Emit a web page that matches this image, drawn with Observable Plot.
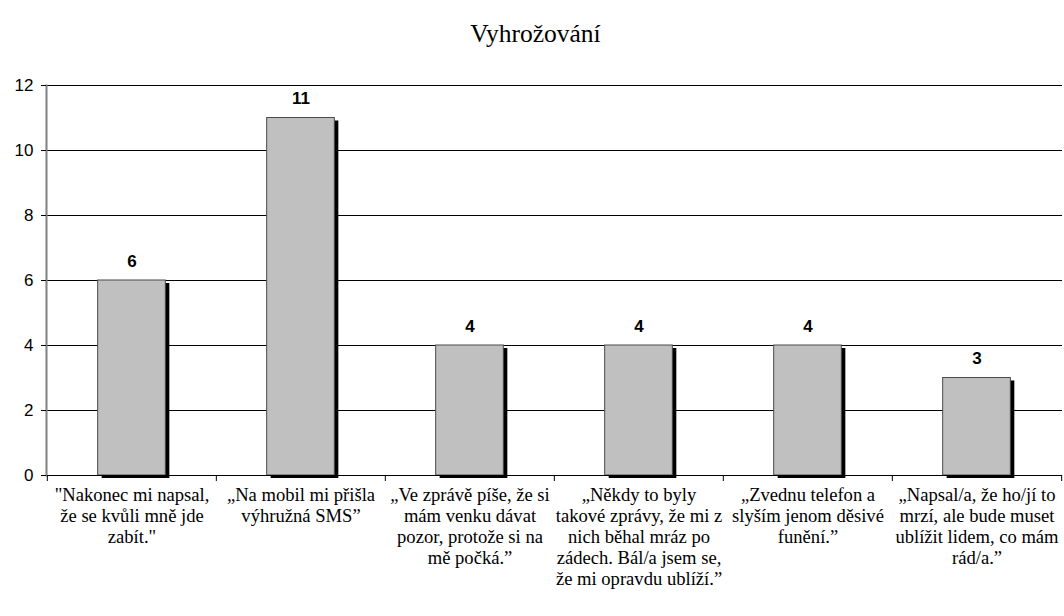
<!DOCTYPE html>
<html>
<head>
<meta charset="utf-8">
<script src="https://cdn.jsdelivr.net/npm/d3@7"></script>
<script src="https://cdn.jsdelivr.net/npm/@observablehq/plot@0.6"></script>
<style>
  body { margin: 0; background: #fff; }
</style>
</head>
<body>
<div id="chart"></div>
<script>
const title = "Vyhrožování";
const categories = [
  "\"Nakonec mi napsal,\nže se kvůli mně jde\nzabít.\"",
  "„Na mobil mi přišla\nvýhružná SMS”",
  "„Ve zprávě píše, že si\nmám venku dávat\npozor, protože si na\nmě počká.”",
  "„Někdy to byly\ntakové zprávy, že mi z\nnich běhal mráz po\nzádech. Bál/a jsem se,\nže mi opravdu ublíží.”",
  "„Zvednu telefon a\nslyším jenom děsivé\nfunění.”",
  "„Napsal/a, že ho/jí to\nmrzí, ale bude muset\nublížit lidem, co mám\nrád/a.”"
];
const values = [6, 11, 4, 4, 4, 3];
const yTicks = [0, 2, 4, 6, 8, 10, 12];

const data = categories.map((c, i) => ({ cat: c, value: values[i] }));

const W = 1064, H = 616;
const mL = 46, mR = 2, mT = 85, mB = 141;
const bw = (W - mL - mR) / categories.length;
const inset = (bw - 68) / 2;
const serif = "'Liberation Serif', 'Times New Roman', serif";
const sans = "'Liberation Sans', Arial, sans-serif";

const chart = Plot.plot({
  width: W,
  height: H,
  marginLeft: mL,
  marginRight: mR,
  marginTop: mT,
  marginBottom: mB,
  style: { background: "#fff" },
  x: { domain: categories, padding: 0, axis: null, label: null },
  y: { domain: [0, 12], axis: null, label: null },
  marks: [
    Plot.ruleY(yTicks.filter(d => d > 0), { stroke: "#000", strokeWidth: 1 }),
    Plot.barY(data, { x: "cat", y: "value", fill: "#000", insetLeft: inset, insetRight: inset, dx: 4, dy: 3 }),
    Plot.barY(data, { x: "cat", y: "value", fill: "#c0c0c0", stroke: "#4a4a4a", strokeWidth: 1, insetLeft: inset, insetRight: inset }),
    Plot.ruleY([0], { stroke: "#000", strokeWidth: 1 }),
    Plot.frame({ anchor: "left", stroke: "#808080", strokeWidth: 2 }),
    Plot.axisY({ ticks: yTicks, tickSize: 5, tickPadding: 8, fontSize: 17, fontFamily: sans, fill: "#000", stroke: "#000", label: null }),
    Plot.axisX({ ticks: categories, tickSize: 6, tickFormat: () => "", dx: -bw / 2, stroke: "#000", label: null }),
    Plot.axisX({ ticks: [categories[categories.length - 1]], tickSize: 6, tickFormat: () => "", dx: bw / 2, stroke: "#000", label: null }),
    Plot.text(categories, { x: d => d, frameAnchor: "bottom", lineAnchor: "top", dy: 11, fontSize: 18.6, lineHeight: 1.13, fontFamily: serif, fill: "#000", textAnchor: "middle" }),
    Plot.text(data, { x: "cat", y: "value", text: d => String(d.value), dy: -19, fontWeight: "bold", fontSize: 17, fontFamily: sans, fill: "#000" }),
    Plot.text([title], { frameAnchor: "top", dy: -62, dx: -19, fontSize: 25.5, fontFamily: serif, fill: "#000" })
  ]
});

document.getElementById("chart").appendChild(chart);
</script>
</body>
</html>
